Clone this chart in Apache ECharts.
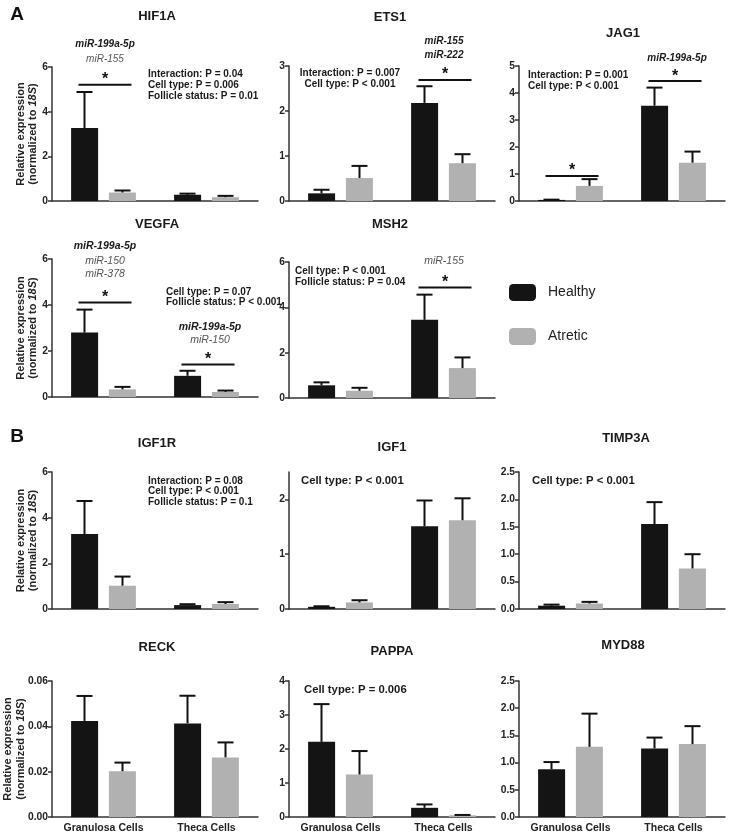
<!DOCTYPE html>
<html>
<head>
<meta charset="utf-8">
<script src="https://cdn.jsdelivr.net/npm/echarts@6/dist/echarts.min.js"></script>
<style>html,body{margin:0;padding:0;background:#fff}#c{width:729px;height:836px}</style>
</head>
<body>
<div id="c"></div>
<script>
// ---------- DATA ----------
const categories = ['Granulosa Cells', 'Theca Cells'];
const seriesNames = ['Healthy', 'Atretic'];

const hif1a_healthy = [3.27, 0.28];   const hif1a_healthy_sem = [1.61, 0.05];
const hif1a_atretic = [0.38, 0.17];   const hif1a_atretic_sem = [0.09, 0.06];
const hif1a_sig = [[0, 5.2]];

const ets1_healthy = [0.17, 2.18];    const ets1_healthy_sem = [0.08, 0.37];
const ets1_atretic = [0.51, 0.84];    const ets1_atretic_sem = [0.27, 0.20];
const ets1_sig = [[1, 2.69]];

const jag1_healthy = [0.04, 3.53];    const jag1_healthy_sem = [0.01, 0.67];
const jag1_atretic = [0.56, 1.42];    const jag1_atretic_sem = [0.25, 0.41];
const jag1_sig = [[0, 0.93], [1, 4.44]];

const vegfa_healthy = [2.80, 0.92];   const vegfa_healthy_sem = [1.00, 0.22];
const vegfa_atretic = [0.33, 0.22];   const vegfa_atretic_sem = [0.11, 0.06];
const vegfa_sig = [[0, 4.11], [1, 1.41]];

const msh2_healthy = [0.56, 3.45];    const msh2_healthy_sem = [0.13, 1.11];
const msh2_atretic = [0.32, 1.32];    const msh2_atretic_sem = [0.13, 0.47];
const msh2_sig = [[1, 4.88]];

const igf1r_healthy = [3.28, 0.17];   const igf1r_healthy_sem = [1.45, 0.04];
const igf1r_atretic = [1.02, 0.22];   const igf1r_atretic_sem = [0.40, 0.08];

const igf1_healthy = [0.04, 1.51];    const igf1_healthy_sem = [0.01, 0.47];
const igf1_atretic = [0.12, 1.62];    const igf1_atretic_sem = [0.04, 0.40];

const timp3a_healthy = [0.06, 1.55];  const timp3a_healthy_sem = [0.02, 0.40];
const timp3a_atretic = [0.10, 0.74];  const timp3a_atretic_sem = [0.03, 0.26];

const reck_healthy = [0.0424, 0.0413]; const reck_healthy_sem = [0.0110, 0.0122];
const reck_atretic = [0.0202, 0.0263]; const reck_atretic_sem = [0.0038, 0.0066];

const pappa_healthy = [2.21, 0.27];   const pappa_healthy_sem = [1.11, 0.10];
const pappa_atretic = [1.25, 0.05];   const pappa_atretic_sem = [0.69, 0.01];

const myd88_healthy = [0.88, 1.26];   const myd88_healthy_sem = [0.13, 0.20];
const myd88_atretic = [1.29, 1.34];   const myd88_atretic_sem = [0.61, 0.33];

const igf1_tick_labels = [0, 1, 2];

// ---------- LAYOUT / STYLE ----------
const FONT = '"Liberation Sans", Arial, Helvetica, sans-serif';
const BLACK = '#141414', GRAY = '#b1b1b1', AXIS = '#333';

// yName: x-centre of the two-line rotated y-axis title
const panels = [
  {t:'HIF1A', g:[52,67,206,134], max:6, iv:2, d:1, h:hif1a_healthy, hs:hif1a_healthy_sem, a:hif1a_atretic, as:hif1a_atretic_sem, sig:hif1a_sig, yName:27},
  {t:'ETS1', g:[289,66,206,135], max:3, iv:1, d:1, h:ets1_healthy, hs:ets1_healthy_sem, a:ets1_atretic, as:ets1_atretic_sem, sig:ets1_sig},
  {t:'JAG1', g:[519,66,206,135], max:5, iv:1, d:1, h:jag1_healthy, hs:jag1_healthy_sem, a:jag1_atretic, as:jag1_atretic_sem, sig:jag1_sig},
  {t:'VEGFA', g:[52,259,206,138], max:6, iv:2, d:1, h:vegfa_healthy, hs:vegfa_healthy_sem, a:vegfa_atretic, as:vegfa_atretic_sem, sig:vegfa_sig, yName:27},
  {t:'MSH2', g:[289,262,206,136], max:6, iv:2, d:1, h:msh2_healthy, hs:msh2_healthy_sem, a:msh2_atretic, as:msh2_atretic_sem, sig:msh2_sig},
  {t:'IGF1R', g:[52,472,206,137], max:6, iv:2, d:1, h:igf1r_healthy, hs:igf1r_healthy_sem, a:igf1r_atretic, as:igf1r_atretic_sem, sig:[], yName:27},
  {t:'IGF1', g:[289,472,206,137], max:2.5, iv:1, d:1, custom:igf1_tick_labels, h:igf1_healthy, hs:igf1_healthy_sem, a:igf1_atretic, as:igf1_atretic_sem, sig:[]},
  {t:'TIMP3A', g:[519,472,206,137], max:2.5, iv:0.5, d:0.1, h:timp3a_healthy, hs:timp3a_healthy_sem, a:timp3a_atretic, as:timp3a_atretic_sem, sig:[]},
  {t:'RECK', g:[52,681,206,136], max:0.06, iv:0.02, d:0.01, h:reck_healthy, hs:reck_healthy_sem, a:reck_atretic, as:reck_atretic_sem, sig:[], yName:14.5, xl:true},
  {t:'PAPPA', g:[289,681,206,136], max:4, iv:1, d:1, h:pappa_healthy, hs:pappa_healthy_sem, a:pappa_atretic, as:pappa_atretic_sem, sig:[], xl:true},
  {t:'MYD88', g:[519,681,206,136], max:2.5, iv:0.5, d:0.1, h:myd88_healthy, hs:myd88_healthy_sem, a:myd88_atretic, as:myd88_atretic_sem, sig:[], xl:true}
];

const titlePos = {HIF1A:[157,16], ETS1:[390,17], JAG1:[623,33], VEGFA:[157,224], MSH2:[390,224],
  IGF1R:[157,443], IGF1:[392,447], TIMP3A:[626,438], RECK:[157,647], PAPPA:[392,651], MYD88:[623,645]};

const pTexts = [
  {x:148, y:[74,85,96], lines:['Interaction: P = 0.04','Cell type: P = 0.006','Follicle status: P = 0.01'], align:'left', fs:10},
  {x:350, y:[73,84], lines:['Interaction: P = 0.007','Cell type: P < 0.001'], align:'center', fs:10},
  {x:528, y:[75,86], lines:['Interaction: P = 0.001','Cell type: P < 0.001'], align:'left', fs:10},
  {x:166, y:[292,302], lines:['Cell type: P = 0.07','Follicle status: P < 0.001'], align:'left', fs:10},
  {x:295, y:[271,282], lines:['Cell type: P < 0.001','Follicle status: P = 0.04'], align:'left', fs:10},
  {x:148, y:[481,491,502], lines:['Interaction: P = 0.08','Cell type: P < 0.001','Follicle status: P = 0.1'], align:'left', fs:10},
  {x:301, y:[481], lines:['Cell type: P < 0.001'], align:'left', fs:11.3},
  {x:532, y:[481], lines:['Cell type: P < 0.001'], align:'left', fs:11.3},
  {x:304, y:[690], lines:['Cell type: P = 0.006'], align:'left', fs:11.3}
];

const mirTexts = [
  {x:105, y:44, s:'miR-199a-5p', b:true, fs:10}, {x:105, y:59, s:'miR-155', b:false, fs:10},
  {x:444, y:41, s:'miR-155', b:true, fs:10}, {x:444, y:55, s:'miR-222', b:true, fs:10},
  {x:677, y:58, s:'miR-199a-5p', b:true, fs:10},
  {x:105, y:246, s:'miR-199a-5p', b:true, fs:10.5}, {x:105, y:261, s:'miR-150', b:false, fs:10.5}, {x:105, y:274, s:'miR-378', b:false, fs:10.5},
  {x:210, y:327, s:'miR-199a-5p', b:true, fs:10.5}, {x:210, y:340, s:'miR-150', b:false, fs:10.5},
  {x:444, y:261, s:'miR-155', b:false, fs:10.5}
];

// ---------- BUILD ----------
const grid = [], xAxis = [], yAxis = [], series = [], graphic = [];

function renderExtra(params, api) {
  const cat = api.value(0), y = api.value(1), type = api.value(2);
  const sty = {stroke:'#111', lineWidth:2};
  if (type === 0) {
    const side = api.value(3), top = y + api.value(4);
    const p0 = api.coord([cat, y]), p1 = api.coord([cat, top]);
    const x = p0[0] + (side ? 19 : -19);
    return {type:'group', children:[
      {type:'line', shape:{x1:x, y1:p0[1], x2:x, y2:p1[1]}, style:sty},
      {type:'line', shape:{x1:x-8, y1:p1[1], x2:x+8, y2:p1[1]}, style:sty}
    ]};
  }
  const p = api.coord([cat, y]);
  return {type:'group', children:[
    {type:'line', shape:{x1:p[0]-25, y1:p[1], x2:p[0]+28, y2:p[1]}, style:sty},
    {type:'text', x:p[0]+1.5, y:p[1]-5, style:{text:'*', fill:'#111', fontSize:16, fontWeight:'bold', fontFamily:FONT, align:'center', verticalAlign:'middle'}}
  ]};
}

const nameRich = {
  a:{fontSize:11, fontWeight:'bold', fontFamily:FONT, fill:'#222', lineHeight:12.5},
  b:{fontSize:11, fontWeight:'bold', fontStyle:'italic', fontFamily:FONT, fill:'#222', lineHeight:12.5}
};

panels.forEach((P, i) => {
  grid.push({left:P.g[0], top:P.g[1], width:P.g[2], height:P.g[3], containLabel:false, outerBoundsMode:'none'});
  xAxis.push({type:'category', gridIndex:i, data:categories,
    axisLine:{lineStyle:{color:AXIS, width:1.5}},
    axisTick:{alignWithLabel:true, length:4, lineStyle:{color:AXIS, width:1.5}},
    axisLabel:{show:!!P.xl, interval:0, hideOverlap:false, margin:6, color:'#222', fontSize:10.5, fontWeight:'bold', fontFamily:FONT}});
  const fmt = v => P.d === 1 ? String(v) : v.toFixed(P.d === 0.1 ? 1 : 2);
  const ya = {type:'value', gridIndex:i, min:0, max:P.max, interval:P.iv, splitLine:{show:false},
    axisLine:{show:true, lineStyle:{color:AXIS, width:1.5}},
    axisTick:{show:true, length:4, lineStyle:{color:AXIS, width:1.5}},
    axisLabel:{margin:4, color:'#222', fontSize:10.3, fontWeight:'bold', fontFamily:FONT, formatter:fmt}};
  if (P.custom) { ya.axisLabel.customValues = P.custom; ya.axisTick.customValues = P.custom; }
  yAxis.push(ya);
  if (P.yName) {
    graphic.push({type:'text', x:P.yName, y:P.g[1] + P.g[3] / 2, rotation:Math.PI / 2,
      style:{text:'{a|Relative expression}\n{a|(normalized to }{b|18S}{a|)}', rich:nameRich,
        align:'center', verticalAlign:'middle'}});
  }
  series.push({type:'bar', name:'Healthy', xAxisIndex:i, yAxisIndex:i, data:P.h, barWidth:27, barGap:'40%', itemStyle:{color:BLACK}, silent:true});
  series.push({type:'bar', name:'Atretic', xAxisIndex:i, yAxisIndex:i, data:P.a, barWidth:27, barGap:'40%', itemStyle:{color:GRAY}, silent:true});
  const extra = [];
  P.h.forEach((v, k) => extra.push([k, v, 0, 0, P.hs[k]]));
  P.a.forEach((v, k) => extra.push([k, v, 0, 1, P.as[k]]));
  P.sig.forEach(s => extra.push([s[0], s[1], 1, 0, 0]));
  series.push({type:'custom', name:'extra', xAxisIndex:i, yAxisIndex:i, data:extra, renderItem:renderExtra, clip:false, z:5, silent:true});
  const tp = titlePos[P.t];
  graphic.push({type:'text', x:tp[0], y:tp[1], style:{text:P.t, fill:'#1a1a1a', fontSize:13, fontWeight:'bold', fontFamily:FONT, align:'center', verticalAlign:'middle'}});
});

pTexts.forEach(T => T.lines.forEach((l, k) => graphic.push({type:'text', x:T.x, y:T.y[k],
  style:{text:l, fill:'#1a1a1a', fontSize:T.fs, fontWeight:'bold', fontFamily:FONT, align:T.align, verticalAlign:'middle'}})));
mirTexts.forEach(M => graphic.push({type:'text', x:M.x, y:M.y,
  style:{text:M.s, fill:M.b ? '#1a1a1a' : '#555', fontSize:M.fs, fontWeight:M.b ? 'bold' : 'normal', fontStyle:'italic', fontFamily:FONT, align:'center', verticalAlign:'middle'}}));
graphic.push({type:'text', x:17, y:15, style:{text:'A', fill:'#111', fontSize:19, fontWeight:'bold', fontFamily:FONT, align:'center', verticalAlign:'middle'}});
graphic.push({type:'text', x:17, y:437, style:{text:'B', fill:'#111', fontSize:19, fontWeight:'bold', fontFamily:FONT, align:'center', verticalAlign:'middle'}});

const chart = echarts.init(document.getElementById('c'), null, {renderer:'canvas'});
chart.setOption({
  animation:false,
  backgroundColor:'#fff',
  grid, xAxis, yAxis, series, graphic,
  legend:{data:seriesNames, orient:'vertical', left:509, top:284, padding:0, itemWidth:27, itemHeight:17, itemGap:27,
    icon:'roundRect', selectedMode:false,
    textStyle:{fontSize:14, color:'#222', fontFamily:FONT, padding:[0,0,0,7]}}
});
</script>
</body>
</html>
